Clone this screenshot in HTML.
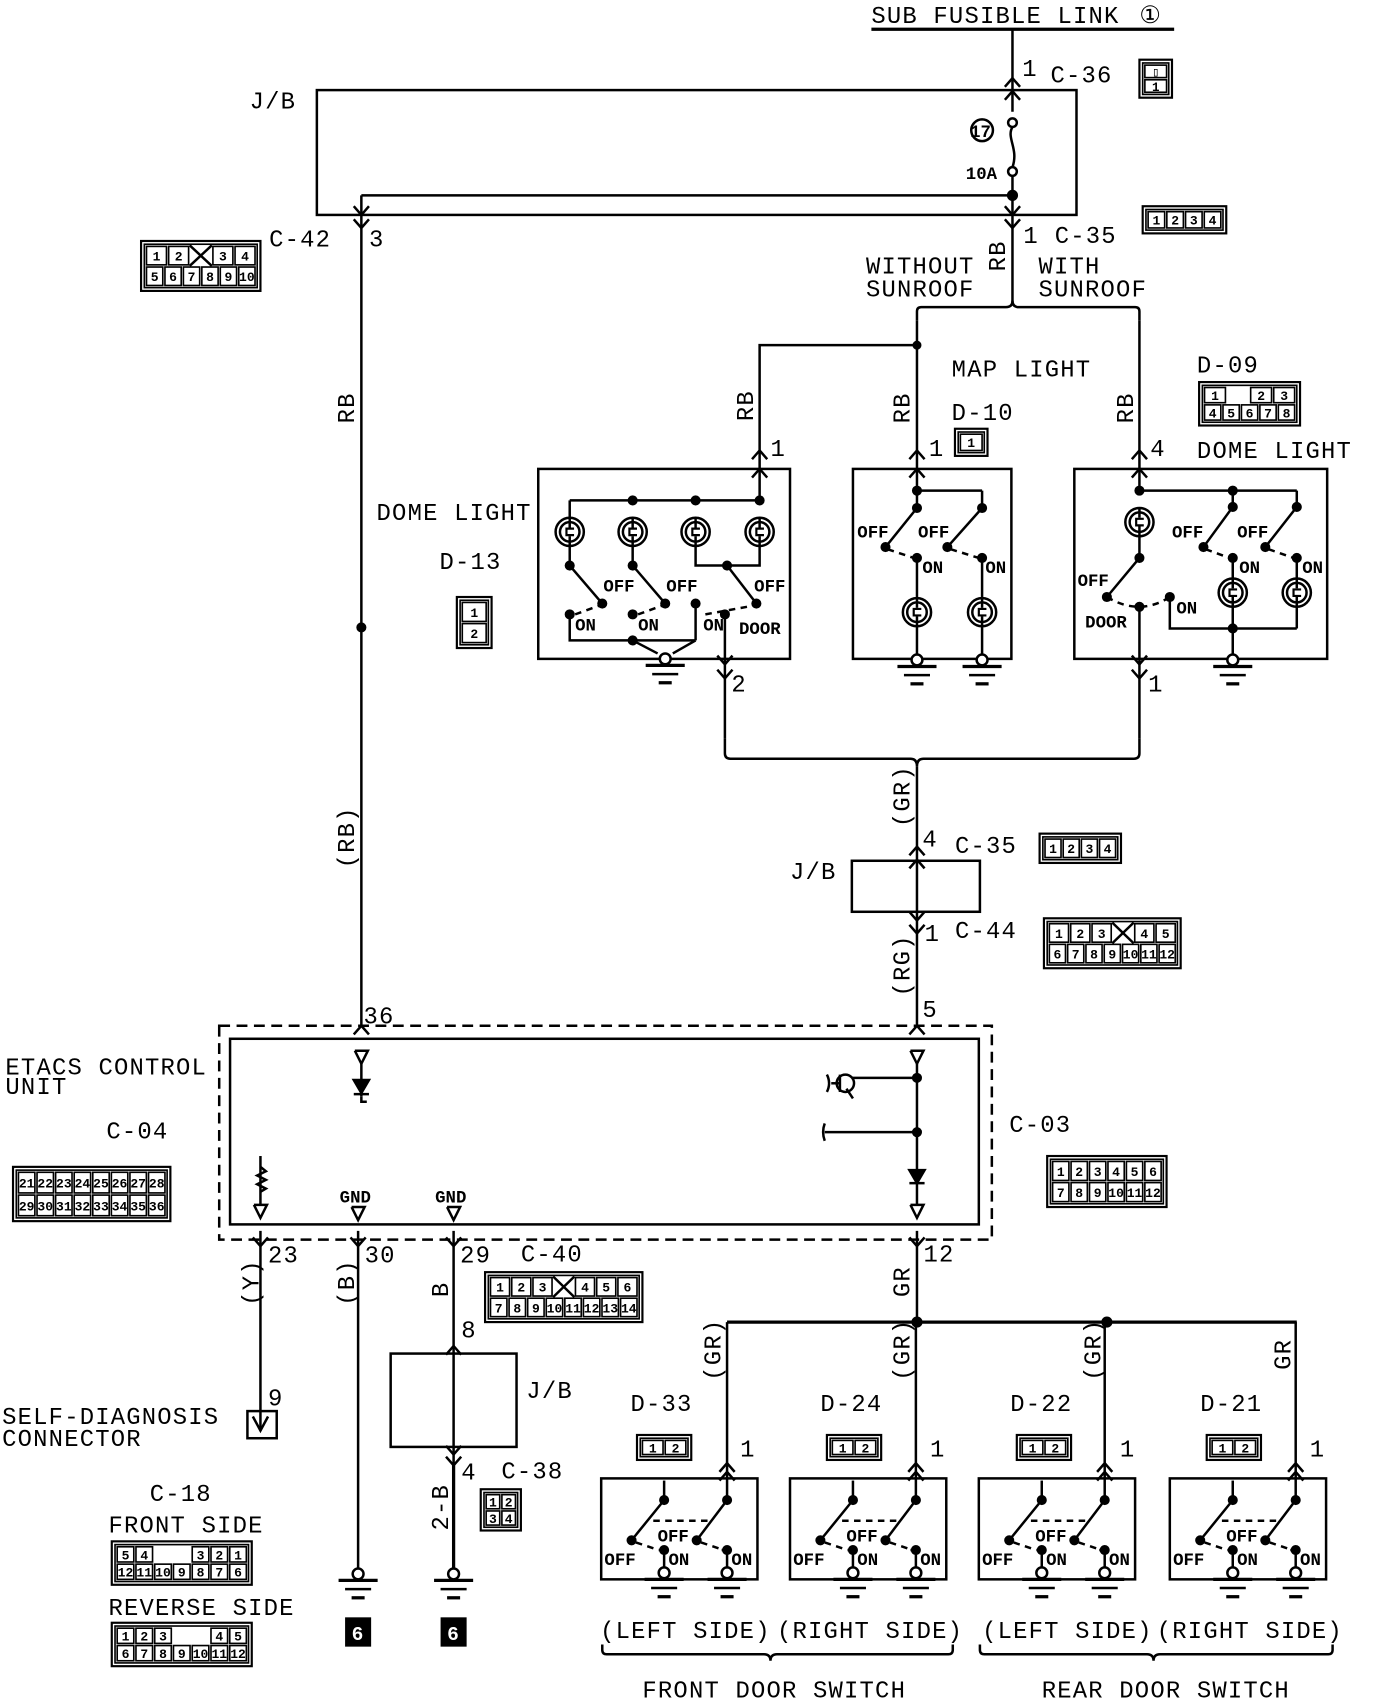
<!DOCTYPE html>
<html><head><meta charset="utf-8"><style>
html,body{margin:0;padding:0;background:#fff}
svg{display:block}
text{font-family:"Liberation Mono","DejaVu Sans Mono",monospace;fill:#000}
.t{font-size:22px;letter-spacing:1.1px}
.s{font-size:16px;font-weight:bold}
</style></head><body>
<svg id="d" width="1376" height="1702" viewBox="0 0 1268 1568" preserveAspectRatio="none" xmlns="http://www.w3.org/2000/svg" stroke="#000" fill="none" stroke-width="2.3">
<g id="g"></g>
<g stroke="none">
<text class="t" x="803" y="21">SUB FUSIBLE LINK</text>
<text class="t" x="1050" y="21">①</text>
<text class="t" x="942" y="70">1</text><text class="t" x="968" y="76">C-36</text>
<text class="t" x="230" y="100">J/B</text>
<text class="s" x="894" y="126" font-size="15">17</text>
<text class="s" x="890" y="165">10A</text>
<text class="t" x="248" y="227">C-42</text><text class="t" x="340" y="227">3</text>
<text class="t" x="943" y="224">1</text><text class="t" x="972" y="224">C-35</text>
<text class="t" x="798" y="252">WITHOUT</text><text class="t" x="798" y="273">SUNROOF</text>
<text class="t" x="957" y="252">WITH</text><text class="t" x="957" y="273">SUNROOF</text>
<text class="t" x="877" y="347">MAP LIGHT</text>
<text class="t" x="877" y="387">D-10</text>
<text class="t" x="1103" y="343">D-09</text>
<text class="t" x="1103" y="422">DOME LIGHT</text>
<text class="t" x="347" y="479">DOME LIGHT</text>
<text class="t" x="405" y="524">D-13</text>
<text class="t" x="710" y="420">1</text><text class="t" x="856" y="420">1</text><text class="t" x="1060" y="420">4</text>
<text class="t" x="674" y="637">2</text><text class="t" x="1058" y="637">1</text>
<text class="t" x="850" y="780">4</text><text class="t" x="880" y="786">C-35</text>
<text class="t" x="728" y="810">J/B</text>
<text class="t" x="852" y="867">1</text><text class="t" x="880" y="864">C-44</text>
<text class="t" x="850" y="937">5</text><text class="t" x="335" y="943">36</text>
<text class="t" x="5" y="990">ETACS CONTROL</text><text class="t" x="5" y="1008">UNIT</text>
<text class="t" x="98" y="1049">C-04</text><text class="t" x="930" y="1043">C-03</text>
<text class="s" x="313" y="1108">GND</text><text class="s" x="401" y="1108">GND</text>
<text class="t" x="247" y="1163">23</text><text class="t" x="336" y="1163">30</text><text class="t" x="424" y="1163">29</text>
<text class="t" x="480" y="1162">C-40</text><text class="t" x="851" y="1162">12</text>
<text class="t" x="425" y="1232">8</text><text class="t" x="485" y="1288">J/B</text>
<text class="t" x="425" y="1363">4</text><text class="t" x="462" y="1362">C-38</text>
<text class="t" x="247" y="1295">9</text>
<text class="t" x="2" y="1312">SELF-DIAGNOSIS</text><text class="t" x="2" y="1332">CONNECTOR</text>
<text class="t" x="138" y="1383">C-18</text>
<text class="t" x="100" y="1412">FRONT SIDE</text>
<text class="t" x="100" y="1488">REVERSE SIDE</text>
<text class="t" x="581" y="1300">D-33</text><text class="t" x="756" y="1300">D-24</text>
<text class="t" x="931" y="1300">D-22</text><text class="t" x="1106" y="1300">D-21</text>
<text class="t" x="682" y="1342">1</text><text class="t" x="857" y="1342">1</text><text class="t" x="1032" y="1342">1</text><text class="t" x="1207" y="1342">1</text>
<text class="t" x="553" y="1509">(LEFT SIDE)</text><text class="t" x="716" y="1509">(RIGHT SIDE)</text>
<text class="t" x="905" y="1509">(LEFT SIDE)</text><text class="t" x="1066" y="1509">(RIGHT SIDE)</text>
<text class="t" x="592" y="1564">FRONT DOOR SWITCH</text><text class="t" x="960" y="1564">REAR DOOR SWITCH</text>
<text class="s" x="790" y="495">OFF</text><text class="s" x="846" y="495">OFF</text>
<text class="s" x="850" y="528">ON</text><text class="s" x="908" y="528">ON</text>
<text class="s" x="1080" y="495">OFF</text><text class="s" x="1140" y="495">OFF</text>
<text class="s" x="1142" y="528">ON</text><text class="s" x="1200" y="528">ON</text>
<text class="s" x="993" y="540">OFF</text><text class="s" x="1000" y="578">DOOR</text><text class="s" x="1084" y="565">ON</text>
<text class="s" x="556" y="545">OFF</text><text class="s" x="614" y="545">OFF</text><text class="s" x="695" y="545">OFF</text>
<text class="s" x="530" y="581">ON</text><text class="s" x="588" y="581">ON</text><text class="s" x="648" y="581">ON</text><text class="s" x="681" y="584">DOOR</text>
</g>
<g stroke="none" font-size="22">
<text class="t" transform="translate(926,250) rotate(-90)">RB</text>
<text class="t" transform="translate(326,390) rotate(-90)">RB</text>
<text class="t" transform="translate(326,800) rotate(-90)">(RB)</text>
<text class="t" transform="translate(694,388) rotate(-90)">RB</text>
<text class="t" transform="translate(838,390) rotate(-90)">RB</text>
<text class="t" transform="translate(1044,390) rotate(-90)">RB</text>
<text class="t" transform="translate(838,762) rotate(-90)">(GR)</text>
<text class="t" transform="translate(838,918) rotate(-90)">(RG)</text>
<text class="t" transform="translate(238,1203) rotate(-90)">(Y)</text>
<text class="t" transform="translate(326,1203) rotate(-90)">(B)</text>
<text class="t" transform="translate(413,1195) rotate(-90)">B</text>
<text class="t" transform="translate(838,1195) rotate(-90)">GR</text>
<text class="t" transform="translate(413,1410) rotate(-90)">2-B</text>
<text class="t" transform="translate(664,1272) rotate(-90)">(GR)</text>
<text class="t" transform="translate(838,1272) rotate(-90)">(GR)</text>
<text class="t" transform="translate(1014,1272) rotate(-90)">(GR)</text>
<text class="t" transform="translate(1189,1262) rotate(-90)">GR</text>
</g>
<g stroke="none" fill="#000"><rect x="318" y="1490" width="24" height="27"/><rect x="406" y="1490" width="24" height="27"/></g>
<g stroke="none" style="font-weight:bold;font-size:18px"><text x="324" y="1511" style="fill:#fff">6</text><text x="412" y="1511" style="fill:#fff">6</text></g>
</svg>
<script>
var G=document.getElementById('g'),NS='http://www.w3.org/2000/svg';
function el(t,a,p){var e=document.createElementNS(NS,t);for(var k in a)e.setAttribute(k,a[k]);(p||G).appendChild(e);return e}
function L(){var a=arguments,p=[];for(var i=0;i<a.length;i+=2)p.push(a[i]+','+a[i+1]);el('polyline',{points:p.join(' ')})}
function D(x1,y1,x2,y2){el('line',{x1:x1,y1:y1,x2:x2,y2:y2,'stroke-dasharray':'6,5'})}
function R(x,y,w,h,sw){el('rect',{x:x,y:y,width:w,height:h,'stroke-width':sw||2.3})}
function dot(x,y,r){el('circle',{cx:x,cy:y,r:r||3.5,fill:'#000'})}
function C(x,y,r){el('circle',{cx:x,cy:y,r:r,fill:'#fff'})}
function up(x,y){L(x-7,y+8,x,y,x+7,y+8)}
function dn(x,y){L(x-7,y-8,x,y,x+7,y-8)}
function gnd(x,y){C(x,y,5);el('line',{x1:x-18,y1:y+6,x2:x+18,y2:y+6,'stroke-width':3});L(x-12,y+14,x+12,y+14);el('line',{x1:x-6,y1:y+22,x2:x+6,y2:y+22,'stroke-width':3})}
function lamp(x,y){C(x,y,13);el('circle',{cx:x,cy:y,r:9});L(x,y-13,x,y-4);L(x,y+4,x,y+13);el('path',{d:'M'+(x+4)+','+(y-3)+' h-7 v6 h7','stroke-width':2})}
function conn(x,y,w,h,rows){R(x,y,w,h,2);R(x+3,y+3,w-6,h-6,1.5);var rh=(h-8)/rows.length;
 rows.forEach(function(r,i){var cw=(w-8)/r.length;r.forEach(function(c,j){var cx=x+4+j*cw,cy=y+4+i*rh;
  if(c==='')return; if(c==='X'){L(cx,cy,cx+cw,cy+rh);L(cx,cy+rh,cx+cw,cy);return}
  el('rect',{x:cx+1,y:cy+1,width:cw-2,height:rh-2,'stroke-width':1.5});
  var t=el('text',{x:cx+cw/2,y:cy+rh/2+4.5,'text-anchor':'middle',stroke:'none','font-size':Math.min(12,rh-2),'font-weight':'bold'});t.textContent=c;})})}
el('line',{x1:803,y1:27,x2:1082,y2:27,'stroke-width':3});
L(933,27,933,103);up(933,72);up(933,84);
R(292,83,700,115);
C(933,113,4);el('path',{d:'M933,117 c-6,10 6,20 0,37'});C(933,158,4);L(933,162,933,180);
el('circle',{cx:905,cy:120,r:10});
dot(933,180,4);L(333,180,933,180);
L(333,180,333,945);dn(333,198);dn(333,210);
L(933,180,933,280);dn(933,198);dn(933,210);
el('path',{d:'M845,295 v-8 q0,-4 4,-4 h78 q6,0 6,-6 q0,6 6,6 h107 q4,0 4,4 v8'});
dot(333,578);
L(845,295,845,452);up(845,415);up(845,432);dot(845,318,3);L(845,318,700,318,700,461);up(700,415);up(700,432);
L(1050,295,1050,452);up(1050,415);up(1050,432);
R(496,432,232,175);
L(525,461,700,461);[583,641,700].forEach(function(x){dot(x,461)});
[525,583,641,700].forEach(function(x){lamp(x,490)});
L(525,477,525,461);
L(525,503,525,521);dot(525,521);L(525,521,555,556);dot(555,556);
L(583,503,583,521);dot(583,521);L(583,521,613,556);dot(613,556);
L(641,503,641,521,700,521,700,503);dot(670,521);L(670,521,697,556);dot(697,556);
D(530,566,552,558);D(588,566,610,558);D(650,566,694,558);
dot(525,566);L(525,566,525,590,641,590);dot(583,566);dot(583,590);dot(641,556);L(641,556,641,590);
L(583,590,606,602);L(641,590,620,602);gnd(613,607);
dot(668,566);L(668,566,668,680);dn(668,612);dn(668,625);
R(786,432,146,175);
L(845,452,905,452);dot(845,452);
L(845,452,845,468);dot(845,468);L(845,468,816,504);dot(816,504);
L(905,452,905,468);dot(905,468);L(905,468,873,504);dot(873,504);
D(818,506,842,514);D(876,506,902,514);dot(845,514);dot(905,514);
L(845,514,845,551);lamp(845,564);L(845,577,845,603);gnd(845,608);
L(905,514,905,551);lamp(905,564);L(905,577,905,603);gnd(905,608);
R(990,432,233,175);
L(1050,452,1195,452);dot(1050,452);dot(1136,452);
lamp(1050,481);L(1050,494,1050,514);dot(1050,514);L(1050,514,1020,550);dot(1020,550);
el('path',{d:'M1020,550 q30,18 58,0','stroke-dasharray':'6,5'});dot(1050,559);dot(1078,550);
L(1050,559,1050,680);dn(1050,612);dn(1050,625);
L(1078,550,1078,579,1195,579);
L(1136,452,1136,467);dot(1136,467);L(1136,467,1109,504);dot(1109,504);
L(1195,452,1195,467);dot(1195,467);L(1195,467,1166,504);dot(1166,504);
D(1111,506,1133,514);D(1169,506,1192,514);dot(1136,514);dot(1195,514);
L(1136,514,1136,533);lamp(1136,546);L(1136,559,1136,603);dot(1136,579);
L(1195,514,1195,533);lamp(1195,546);L(1195,559,1195,579);gnd(1136,608);
el('path',{d:'M668,680 v14 q0,5 5,5 h166 q6,0 6,7 q0,-7 6,-7 h194 q5,0 5,-5 v-14'});
L(845,706,845,945);up(845,780);up(845,792);R(785,793,118,47);dn(845,848);dn(845,860);
el('rect',{x:202,y:945,width:712,height:197,'stroke-dasharray':'10,6'});
R(212,957,690,171);
up(333,945);up(845,945);
L(327,968,339,968,333,980,327,968);L(333,980,333,1010);el('path',{d:'M326,995 h14 l-7,12 z',fill:'#000'});L(326,1008,340,1008);L(333,1010,333,1015,338,1015);
L(839,968,851,968,845,980,839,968);L(845,980,845,1078);el('path',{d:'M838,1078 h14 l-7,12 z',fill:'#000'});L(838,1090,852,1090);L(845,1090,845,1110);L(839,1110,851,1110,845,1122,839,1110);
dot(845,993);dot(845,1043);L(785,993,845,993);L(760,1043,845,1043);el('circle',{cx:779,cy:998,r:8});L(774,990,774,1006);L(766,998,774,998);el('path',{d:'M762,990 q4,8 0,16'});el('path',{d:'M760,1035 q-3,8 0,16'});L(780,1003,786,1012);
L(240,1065,240,1110);el('path',{d:'M240,1075 l5,4 -8,4 8,4 -8,4 8,4 -5,3'});L(234,1110,246,1110,240,1122,234,1110);
L(324,1112,336,1112,330,1124,324,1112);L(412,1112,424,1112,418,1124,412,1112);
[240,330,418,845].forEach(function(x){dn(x,1148)});
L(240,1134,240,1318);L(233,1305,240,1318,247,1305);R(228,1300,27,25);
L(330,1134,330,1445);gnd(330,1450);
L(418,1134,418,1445);up(418,1240);R(360,1247,116,86);dn(418,1340);dn(418,1350);gnd(418,1450);
el('line',{x1:418,y1:1350,x2:418,y2:1445,'stroke-width':3});
L(845,1134,845,1218);el('line',{x1:670,y1:1218,x2:1195,y2:1218,'stroke-width':3});dot(845,1218,4);dot(1020,1218,4);
[554,728,902,1078].forEach(function(x0){var a=x0+58,b=x0+116;
 L(b,1218,b,1382);up(b,1348);up(b,1356);
 R(x0,1362,144,93);
 L(a,1364,a,1382);dot(a,1382);L(a,1382,a-30,1419);dot(a-30,1419);
 dot(b,1382);L(b,1382,b-28,1419);dot(b-28,1419);
 D(a-10,1401,b-14,1401);D(a-26,1421,a-8,1427);D(b-24,1421,b-6,1427);
 dot(a,1428);L(a-5,1428,a+3,1428);L(a,1428,a,1444);gnd(a,1449);
 dot(b,1428);L(b-5,1428,b+3,1428);L(b,1428,b,1444);gnd(b,1449);
 var t=el('text',{x:x0+52,y:1420,stroke:'none','font-size':16,'font-weight':'bold'});t.textContent='OFF';
 t=el('text',{x:x0+3,y:1442,stroke:'none','font-size':16,'font-weight':'bold'});t.textContent='OFF';
 t=el('text',{x:a+4,y:1442,stroke:'none','font-size':16,'font-weight':'bold'});t.textContent='ON';
 t=el('text',{x:b+4,y:1442,stroke:'none','font-size':16,'font-weight':'bold'});t.textContent='ON';
});
el('path',{d:'M555,1515 v5 q0,4 4,4 h145 q6,0 6,6 q0,-6 6,-6 h158 q4,0 4,-4 v-5'});
el('path',{d:'M903,1515 v5 q0,4 4,4 h150 q6,0 6,6 q0,-6 6,-6 h155 q4,0 4,-4 v-5'});
conn(1050,55,30,35,[["▯"],["1"]]);
conn(1053,190,77,25,[["1","2","3","4"]]);
conn(130,222,110,46,[["1","2","X","3","4"],["5","6","7","8","9","10"]]);
conn(1105,352,93,40,[["1","","2","3"],["4","5","6","7","8"]]);
conn(880,395,30,25,[["1"]]);
conn(421,550,32,47,[["1"],["2"]]);
conn(958,768,75,27,[["1","2","3","4"]]);
conn(962,846,126,46,[["1","2","3","X","4","5"],["6","7","8","9","10","11","12"]]);
conn(12,1075,145,50,[["21","22","23","24","25","26","27","28"],["29","30","31","32","33","34","35","36"]]);
conn(965,1065,110,47,[["1","2","3","4","5","6"],["7","8","9","10","11","12"]]);
conn(447,1172,145,46,[["1","2","3","X","4","5","6"],["7","8","9","10","11","12","13","14"]]);
conn(443,1372,37,38,[["1","2"],["3","4"]]);
conn(103,1420,129,40,[["5","4","","","3","2","1"],["12","11","10","9","8","7","6"]]);
conn(103,1495,129,40,[["1","2","3","","","4","5"],["6","7","8","9","10","11","12"]]);
[587,762,937,1112].forEach(function(x){conn(x,1322,50,23,[["1","2"]])});
</script>
</body></html>
